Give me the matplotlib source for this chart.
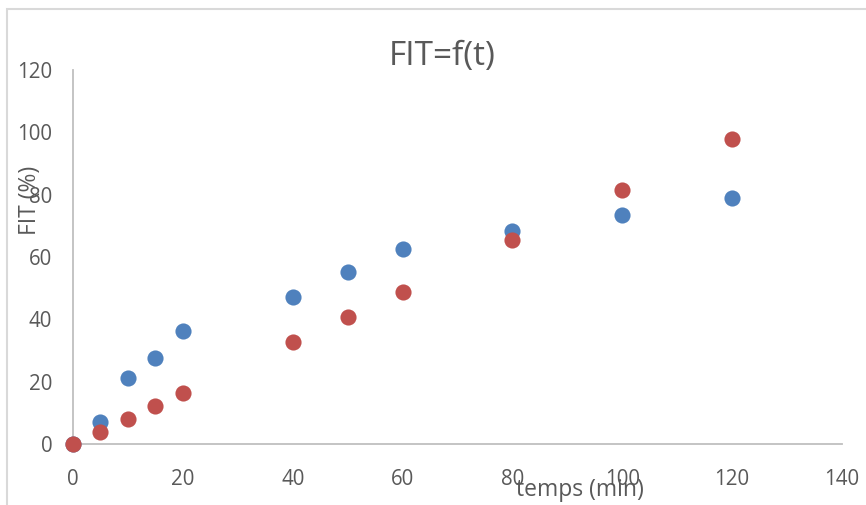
import matplotlib.pyplot as plt
from matplotlib.patches import Rectangle

plt.rcParams['font.family'] = ['Open Sans', 'DejaVu Sans']

# temps (min) et FIT (%) pour les deux essais
temps = [0, 5, 10, 15, 20, 40, 50, 60, 80, 100, 120]
fit_bleu = [0, 7.1, 21.2, 27.6, 36.3, 47.2, 55.2, 62.6, 68.3, 73.5, 78.9]
fit_rouge = [0, 3.9, 8.0, 12.2, 16.3, 32.7, 40.7, 48.8, 65.4, 81.6, 97.9]

x_ticks = [0, 20, 40, 60, 80, 100, 120, 140]
y_ticks = [0, 20, 40, 60, 80, 100, 120]

gris_txt = '#595959'
gris_axe = '#BFBFBF'

fig = plt.figure(figsize=(8.66, 5.05), dpi=100)
ax = fig.add_axes([73 / 866, 61 / 505, 769 / 866, 374 / 505])

ax.scatter(temps, fit_bleu, s=135, color='#4F81BD', zorder=3, clip_on=False, linewidths=0)
ax.scatter(temps, fit_rouge, s=135, color='#C0504D', zorder=4, clip_on=False, linewidths=0)

ax.set_xlim(0, 140)
ax.set_ylim(0, 120)
ax.set_xticks(x_ticks)
ax.set_yticks(y_ticks)
ax.tick_params(length=0, labelsize=14.8, labelcolor=gris_txt)
ax.tick_params(axis='x', pad=18)
ax.tick_params(axis='y', pad=15)

for side in ['top', 'right']:
    ax.spines[side].set_visible(False)
for side in ['left', 'bottom']:
    ax.spines[side].set_color(gris_axe)
    ax.spines[side].set_linewidth(1.3)

fig.text(442 / 866, 1 - 56 / 505, 'FIT=f(t)', ha='center', va='center',
         fontsize=24, color=gris_txt)
fig.text(580 / 866, 1 - 490 / 505, 'temps (min)', ha='center', va='center',
         fontsize=16.5, color=gris_txt)
fig.text(30 / 866, 1 - 200 / 505, 'FIT (%)', ha='center', va='center',
         rotation=90, fontsize=16.5, color=gris_txt)

# cadre du graphique
fig.add_artist(Rectangle((7 / 866, -0.1), 1.2, 0.1 + (505 - 9) / 505,
                         transform=fig.transFigure, fill=False,
                         edgecolor='#D9D9D9', linewidth=1.5))

fig.savefig('out.png', dpi=100)
